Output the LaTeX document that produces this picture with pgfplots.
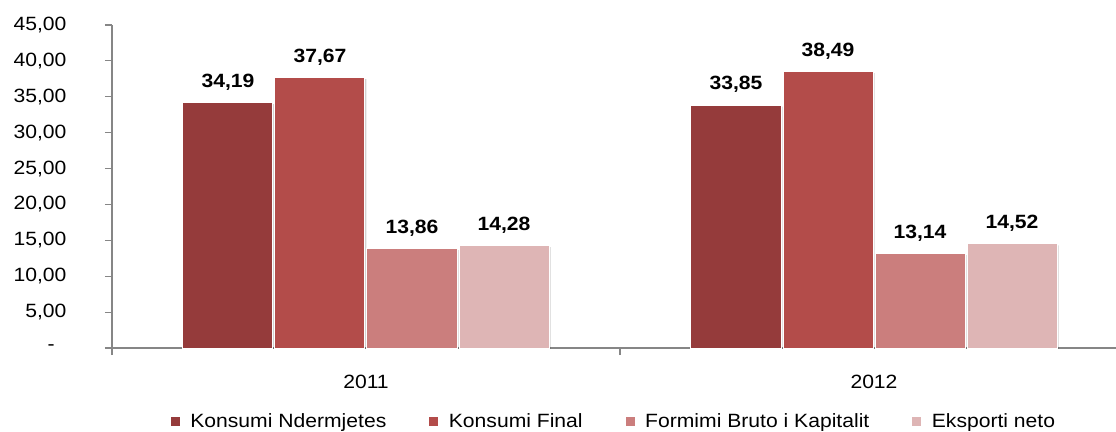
\documentclass[border=0pt]{standalone}
\usepackage{pgfplots}
\pgfplotsset{compat=1.18}
\usepackage{fontspec}
\setmainfont{Liberation Sans}[FakeStretch=1.1]
\definecolor{cA}{RGB}{149,59,59}
\definecolor{cB}{RGB}{179,76,74}
\definecolor{cC}{RGB}{203,126,125}
\definecolor{cD}{RGB}{222,181,181}
\definecolor{axgray}{RGB}{134,134,134}
\newcommand\f{\fontsize{19.2}{23}\selectfont}
\begin{document}
\begin{tikzpicture}
\begin{axis}[
  at={(0,0)}, anchor=south west,
  scale only axis, width=1016pt, height=323pt,
  xmin=0, xmax=2, ymin=0, ymax=45,
  axis x line*=bottom, axis y line*=left,
  axis line style={draw=axgray, line width=1.1pt},
  every tick/.style={draw=axgray, line width=1.1pt},
  tick align=outside, major tick length=7pt,
  xtick={0,1,2}, xticklabels={},
  extra x ticks={0.5,1.5}, extra x tick labels={2011,2012},
  extra x tick style={major tick length=0pt, xticklabel style={yshift=-24pt}},
  ytick={0,5,...,45},
  yticklabels={{-\hphantom{0}},{5,00},{10,00},{15,00},{20,00},{25,00},{30,00},{35,00},{40,00},{45,00}},
  yticklabel style={anchor=east, xshift=-35pt},
  tick label style={font=\f},
  ybar, bar width=90pt,
  legend columns=4,
  legend style={draw=none, font=\f, at={(0.5,0)}, anchor=center, yshift=-73pt, xshift=-6pt,
    /tikz/every even column/.append style={column sep=41pt}},
  legend image code/.code={\fill[#1,draw=none] (0pt,-4.5pt) rectangle (9pt,4.5pt); \path (17pt,0pt);},
  nodes near coords style={font=\f\bfseries, anchor=base, yshift=15.5pt,
    /pgf/number format/.cd, fixed, fixed zerofill, precision=2, use comma, assume math mode=true},
]
% shadows
\addplot[forget plot, draw=none, fill=black, opacity=0.18, bar shift=-138pt, xshift=1.5pt, yshift=-1.5pt] coordinates {(0.5,34.19) (1.5,33.85)};
\addplot[forget plot, draw=none, fill=black, opacity=0.18, bar shift=-46pt, xshift=1.5pt, yshift=-1.5pt] coordinates {(0.5,37.67) (1.5,38.49)};
\addplot[forget plot, draw=none, fill=black, opacity=0.18, bar shift=46pt, xshift=1.5pt, yshift=-1.5pt] coordinates {(0.5,13.86) (1.5,13.14)};
\addplot[forget plot, draw=none, fill=black, opacity=0.18, bar shift=138pt, xshift=1.5pt, yshift=-1.5pt] coordinates {(0.5,14.28) (1.5,14.52)};
% bars
\addplot[fill=cA, draw=white, line width=1pt, bar shift=-138pt, nodes near coords] coordinates {(0.5,34.19) (1.5,33.85)};
\addplot[fill=cB, draw=white, line width=1pt, bar shift=-46pt, nodes near coords] coordinates {(0.5,37.67) (1.5,38.49)};
\addplot[fill=cC, draw=white, line width=1pt, bar shift=46pt, nodes near coords] coordinates {(0.5,13.86) (1.5,13.14)};
\addplot[fill=cD, draw=white, line width=1pt, bar shift=138pt, nodes near coords] coordinates {(0.5,14.28) (1.5,14.52)};
\legend{Konsumi Ndermjetes, Konsumi Final, Formimi Bruto i Kapitalit, Eksporti neto}
\end{axis}
\pgfresetboundingbox
\useasboundingbox (-112pt,-83pt) rectangle (1004pt,348pt);
\end{tikzpicture}
\end{document}
